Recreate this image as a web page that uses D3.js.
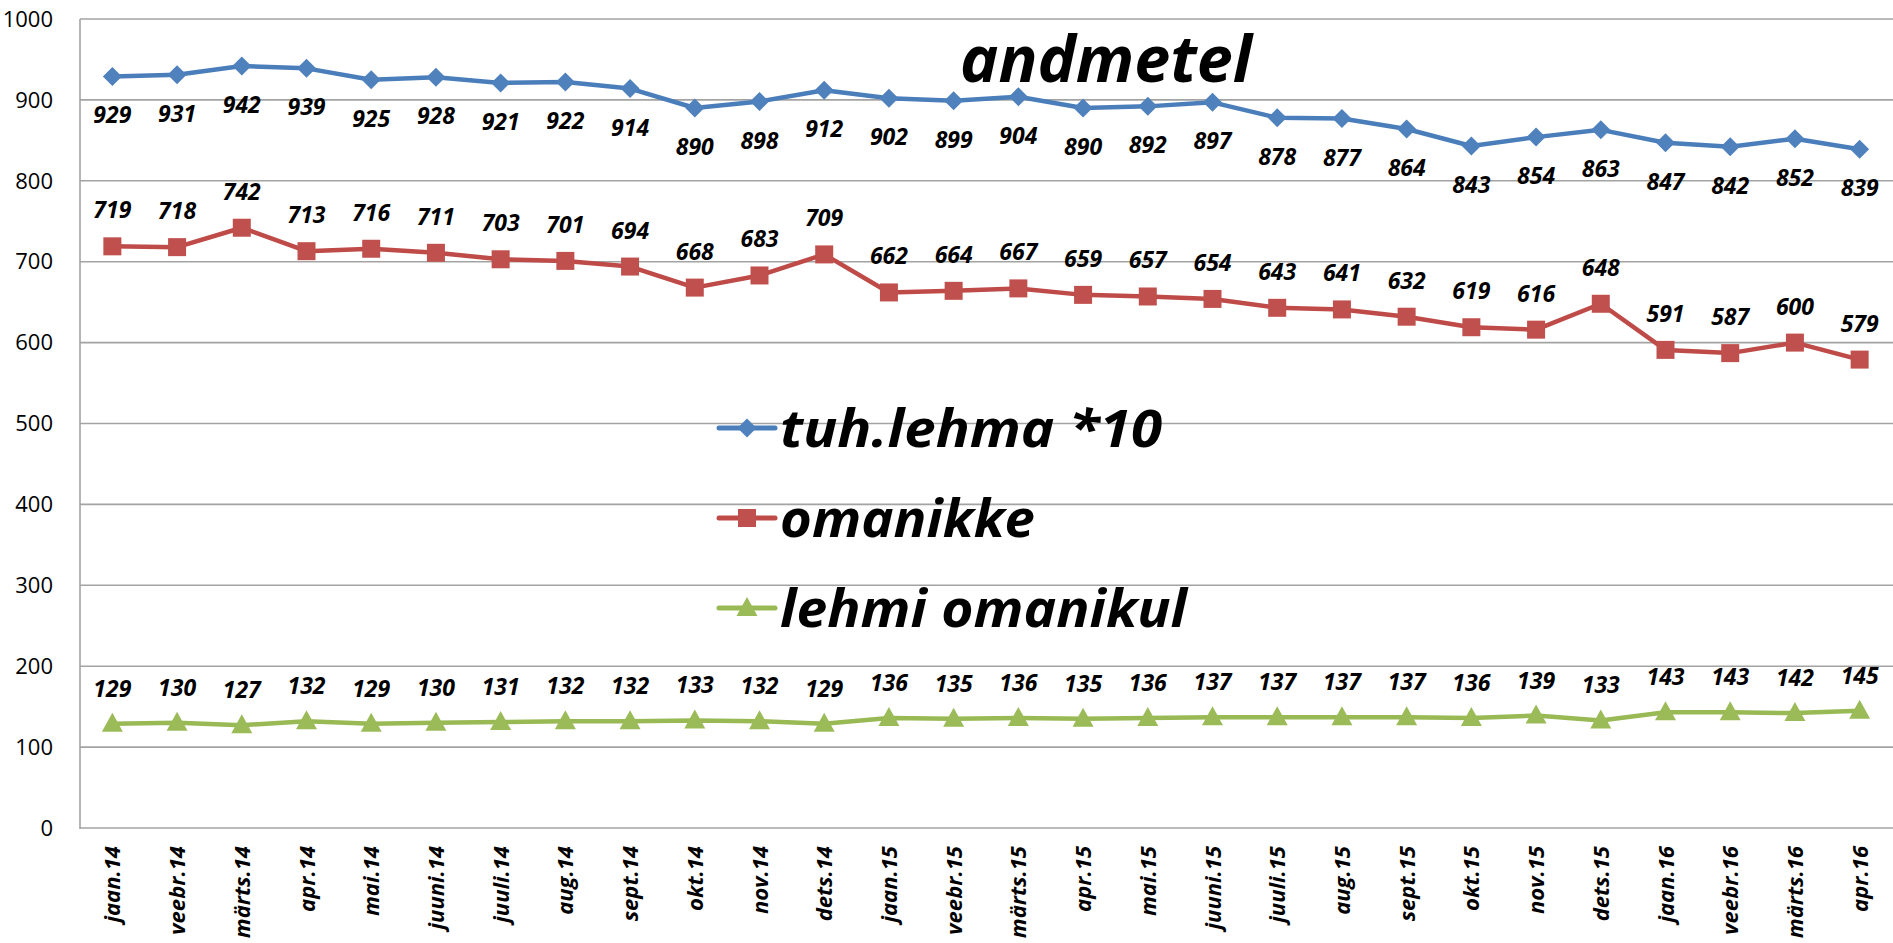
<!DOCTYPE html>
<meta charset="utf-8">
<style>
body{margin:0;background:#fff;overflow:hidden}
text{font-family:'Open Sans',sans-serif}
</style>
<svg id="svg"></svg>
<script src="https://cdn.jsdelivr.net/npm/d3@7"></script>
<script>
var width = 1893, height = 943

var months = ['jaan.14','veebr.14','märts.14','apr.14','mai.14','juuni.14','juuli.14','aug.14','sept.14','okt.14','nov.14','dets.14',
  'jaan.15','veebr.15','märts.15','apr.15','mai.15','juuni.15','juuli.15','aug.15','sept.15','okt.15','nov.15','dets.15',
  'jaan.16','veebr.16','märts.16','apr.16']

var tuhLehma = [929,931,942,939,925,928,921,922,914,890,898,912,902,899,904,890,892,897,878,877,864,843,854,863,847,842,852,839]
var omanikke = [719,718,742,713,716,711,703,701,694,668,683,709,662,664,667,659,657,654,643,641,632,619,616,648,591,587,600,579]
var lehmiOmanikul = [129,130,127,132,129,130,131,132,132,133,132,129,136,135,136,135,136,137,137,137,137,136,139,133,143,143,142,145]

var yTicks = [0,100,200,300,400,500,600,700,800,900,1000]
var seriesNames = ['tuh.lehma *10','omanikke','lehmi omanikul']

var series = [
  {name: seriesNames[0], values: tuhLehma, line:'#4A7EBB', fill:'#4F81BD', marker:'diamond', dy: 47},
  {name: seriesNames[1], values: omanikke, line:'#BE4B48', fill:'#C0504D', marker:'square', dy: -28},
  {name: seriesNames[2], values: lehmiOmanikul, line:'#98B954', fill:'#9BBB59', marker:'triangle', dy: -27}
]

var svg = d3.select('#svg').attr('width', width).attr('height', height)

var x = d3.scaleBand().domain(months).range([80, 1892])
var y = d3.scaleLinear().domain([0, 1000]).range([828, 19])
var cx = d => x(d) + x.bandwidth() / 2

// gridlines
svg.append('g').selectAll('line').data(yTicks).enter().append('line')
  .attr('x1', 80).attr('x2', width)
  .attr('y1', d => y(d)).attr('y2', d => y(d))
  .attr('stroke', '#a3a3a3').attr('stroke-width', 1.6)

svg.append('line').attr('x1', 80).attr('x2', 80).attr('y1', y(1000)).attr('y2', y(0) + 1)
  .attr('stroke', '#a3a3a3').attr('stroke-width', 1.6)

svg.append('g').selectAll('text').data(yTicks).enter().append('text')
  .attr('x', 53).attr('y', d => y(d)).attr('dy', '0.35em')
  .attr('text-anchor', 'end').style('font-size', '22px').attr('fill', '#000')
  .text(d => d)

// x labels
svg.append('g').selectAll('text').data(months).enter().append('text')
  .attr('transform', d => 'translate(' + (cx(d) + 8) + ',' + 846 + ') rotate(-90)')
  .attr('text-anchor', 'end')
  .style('font-size', '22px').style('font-weight', 'bold').style('font-style', 'italic')
  .text(d => d)

// title fragment
svg.append('text').attr('x', 1106).attr('y', 82).attr('text-anchor', 'middle')
  .style('font-size', '64px').style('font-weight', 'bold').style('font-style', 'italic')
  .attr('textLength', 292).attr('lengthAdjust', 'spacingAndGlyphs')
  .text('andmetel')

function markerPath(type) {
  if (type == 'diamond') return 'M0,-9.5L9.5,0L0,9.5L-9.5,0Z'
  if (type == 'square') return 'M-9,-9H9V9H-9Z'
  return 'M0,-11L10.5,8H-10.5Z'
}

var line = d3.line().x((d, i) => cx(months[i])).y(d => y(d))

series.forEach(s => {
  var g = svg.append('g')
  g.append('path').datum(s.values).attr('d', line)
    .attr('fill', 'none').attr('stroke', s.line).attr('stroke-width', 4.5).attr('stroke-linejoin', 'round')
  g.selectAll('path.m').data(s.values).enter().append('path').attr('class', 'm')
    .attr('d', markerPath(s.marker))
    .attr('transform', (d, i) => 'translate(' + cx(months[i]) + ',' + y(d) + ')')
    .attr('fill', s.fill)
  g.selectAll('text').data(s.values).enter().append('text')
    .attr('x', (d, i) => cx(months[i])).attr('y', d => y(d) + s.dy)
    .attr('text-anchor', 'middle')
    .style('font-size', '23px').style('font-weight', 'bold').style('font-style', 'italic')
    .text(d => d)
})

// legend
var leg = svg.append('g').selectAll('g').data(series).enter().append('g')
  .attr('transform', (d, i) => 'translate(719,' + (428 + i * 90) + ')')
leg.append('line').attr('x1', 0).attr('x2', 56).attr('stroke', d => d.line).attr('stroke-width', 5).attr('stroke-linecap', 'round')
leg.append('path').attr('d', d => markerPath(d.marker)).attr('transform', 'translate(28,0)').attr('fill', d => d.fill)
leg.append('text').attr('x', 61).attr('y', 19)
  .style('font-size', '52px').style('font-weight', 'bold').style('font-style', 'italic')
  .attr('textLength', (d, i) => [382, 255, 407][i]).attr('lengthAdjust', 'spacingAndGlyphs')
  .text(d => d.name)
</script>
